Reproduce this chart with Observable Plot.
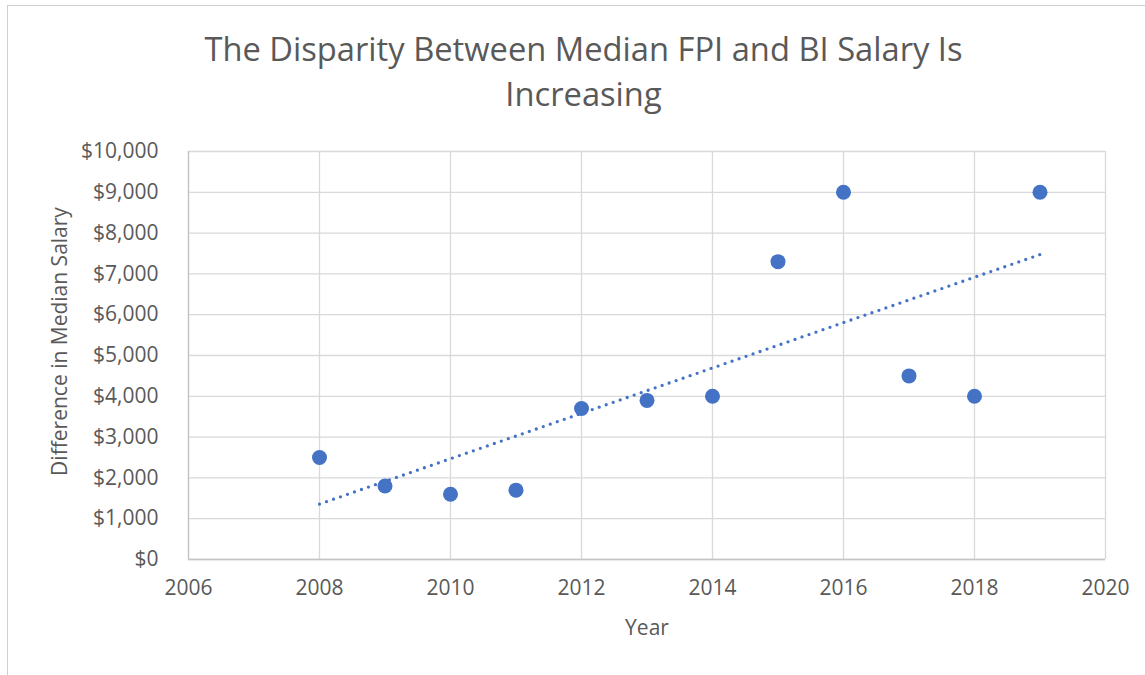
<!DOCTYPE html>
<html>
<head>
<meta charset="utf-8">
<script src="https://cdn.jsdelivr.net/npm/d3@7"></script>
<script src="https://cdn.jsdelivr.net/npm/@observablehq/plot@0.6"></script>
<style>
  html, body { margin: 0; padding: 0; background: #fff; }
  body { position: relative; width: 1145px; height: 675px; overflow: hidden; font-family: "Open Sans", sans-serif; }
  #frame { position: absolute; left: 7px; top: 5px; width: 1200px; height: 720px; border-left: 1px solid #d0d0d0; border-top: 1px solid #d0d0d0; box-sizing: border-box; }
  #title { position: relative; height: 120px; box-sizing: border-box; padding-top: 26px; padding-left: 22px; text-align: center; font-size: 32.7px; line-height: 45px; color: #595959; font-weight: 400; }
  #chart { position: relative; }
</style>
</head>
<body>
<div id="frame"></div>
<div id="title">The Disparity Between Median FPI and BI Salary Is<br>Increasing</div>
<div id="chart"></div>
<script>
const years = [2008, 2009, 2010, 2011, 2012, 2013, 2014, 2015, 2016, 2017, 2018, 2019];
const diffs = [2500, 1800, 1600, 1700, 3700, 3900, 4000, 7300, 9000, 4500, 4000, 9000];
const xTicks = [2006, 2008, 2010, 2012, 2014, 2016, 2018, 2020];
const yTicks = [0, 1000, 2000, 3000, 4000, 5000, 6000, 7000, 8000, 9000, 10000];
const xLabel = "Year";
const yLabel = "Difference in Median Salary";

const data = years.map((year, i) => ({year, diff: diffs[i]}));
const money = d => "$" + d3.format(",")(d);

const chart = Plot.plot({
  width: 1145,
  height: 555,
  marginTop: 31,
  marginRight: 40,
  marginBottom: 116,
  marginLeft: 188,
  style: {fontFamily: "'Open Sans', sans-serif", fontSize: "21px", color: "#595959", background: "transparent", overflow: "visible"},
  x: {domain: [2006, 2020], label: null},
  y: {domain: [0, 10000], label: null},
  marks: [
    Plot.gridX(xTicks, {stroke: "#d9d9d9", strokeOpacity: 1, strokeWidth: 1.3}),
    Plot.gridY(yTicks, {stroke: "#d9d9d9", strokeOpacity: 1, strokeWidth: 1.3}),
    Plot.ruleY([0], {stroke: "#c4c4c4", strokeWidth: 1.3}),
    Plot.ruleX([2006], {stroke: "#c4c4c4", strokeWidth: 1.3}),
    Plot.axisX({ticks: xTicks, tickFormat: d => String(d), tickSize: 0, tickPadding: 21, label: null, fill: "#595959", fontSize: 21}),
    Plot.axisY({ticks: yTicks, tickFormat: money, tickSize: 0, tickPadding: 30, label: null, fill: "#595959", fontSize: 21}),
    Plot.linearRegressionY(data, {x: "year", y: "diff", ci: 0, stroke: "#4472C4", strokeWidth: 3.3, strokeDasharray: "0 7.4", strokeLinecap: "round"}),
    Plot.dot(data, {x: "year", y: "diff", r: 7.5, fill: "#4472C4"}),
    Plot.text([xLabel], {frameAnchor: "bottom", lineAnchor: "middle", dy: 69, fontSize: 21, fill: "#595959"}),
    Plot.text([yLabel], {frameAnchor: "left", textAnchor: "middle", lineAnchor: "middle", rotate: -90, dx: -128, dy: -14, fontSize: 21, fill: "#595959"})
  ]
});
document.getElementById("chart").appendChild(chart);
</script>
</body>
</html>
